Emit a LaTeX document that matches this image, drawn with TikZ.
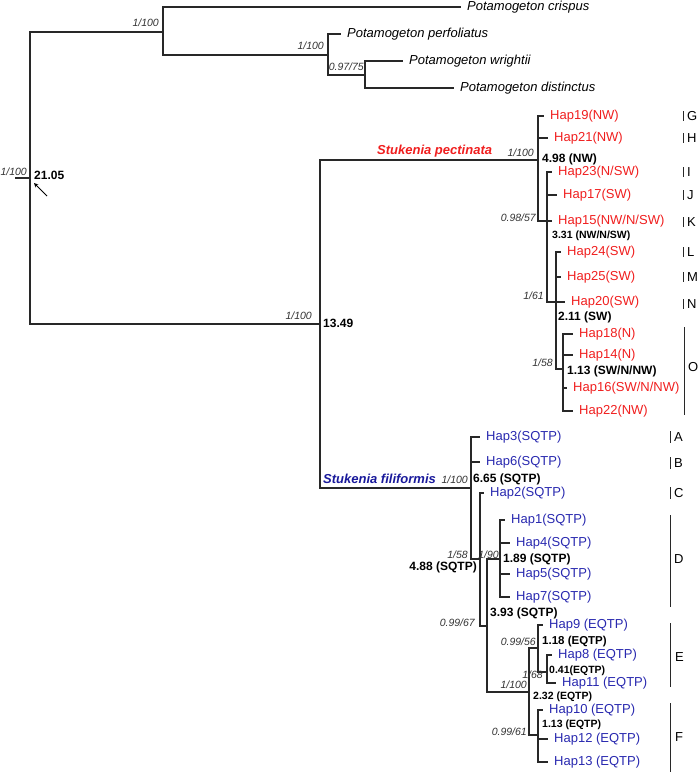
\documentclass[tikz,border=0pt]{standalone}
\usepackage{fontspec}
\setmainfont{Liberation Sans}
\usetikzlibrary{positioning}
\definecolor{hapred}{RGB}{240,30,30}
\definecolor{hapblue}{RGB}{40,40,175}
\definecolor{filblue}{RGB}{25,25,155}
\definecolor{branch}{RGB}{40,40,40}

\begin{document}
\begin{tikzpicture}[>=stealth, x=1pt, y=-1pt,
  br/.style={draw=branch, line width=1.3pt},
  bar/.style={draw=branch, line width=0.8pt},
  sp/.style={anchor=west, inner sep=0pt, xshift=6pt, font=\itshape\fontsize{13}{15}\selectfont},
  tipr/.style={anchor=west, inner sep=0pt, xshift=6pt, text=hapred, font=\fontsize{13}{15}\selectfont},
  tipb/.style={tipr, text=hapblue},
  age/.style={anchor=west, inner sep=0pt, font=\bfseries\fontsize{12}{14}\selectfont},
  agesm/.style={age, font=\bfseries\fontsize{10.5}{12}\selectfont},
  supp/.style={anchor=east, inner sep=0pt, text=black!80, font=\itshape\fontsize{10.5}{12}\selectfont},
  grp/.style={anchor=west, inner sep=0pt, font=\fontsize{13}{15}\selectfont}]
  \useasboundingbox (0,0) rectangle (697,772);

  % internal nodes
  \coordinate (stub) at (15,178);  \coordinate (root) at (30,178);
  \coordinate (og1) at (163,32);   \coordinate (og2) at (328,55);
  \coordinate (og3) at (365,75);   \coordinate (ing) at (320,324);
  \coordinate (pect) at (538,160); \coordinate (nB) at (547,221);
  \coordinate (nC) at (556,302);   \coordinate (nD) at (563,369);
  \coordinate (fil) at (471,488);  \coordinate (nF) at (480,559);
  \coordinate (nG) at (487,626);   \coordinate (nH) at (500,559);
  \coordinate (nI) at (529,692);   \coordinate (nJ) at (538,648);
  \coordinate (nL) at (547,672);   \coordinate (nK) at (538,735);

  % outgroup: Potamogeton
  \path (461,7) coordinate (tcri) node[sp] (lcri) {Potamogeton crispus};
  \path (341,34) coordinate (tper) node[sp] (lper) {Potamogeton perfoliatus};
  \path (403,61) coordinate (twri) node[sp] (lwri) {Potamogeton wrightii};
  \path (454,88) coordinate (tdis) node[sp] (ldis) {Potamogeton distinctus};

  % S. pectinata haplotypes
  \path (544,116) coordinate (t19) node[tipr] (h19) {Hap19(NW)};
  \path (548,138) coordinate (t21) node[tipr] (h21) {Hap21(NW)};
  \path (552,172) coordinate (t23) node[tipr] (h23) {Hap23(N/SW)};
  \path (557,195) coordinate (t17) node[tipr] (h17) {Hap17(SW)};
  \path (552,221) coordinate (t15) node[tipr] (h15) {Hap15(NW/N/SW)};
  \path (561,252) coordinate (t24) node[tipr] (h24) {Hap24(SW)};
  \path (561,277) coordinate (t25) node[tipr] (h25) {Hap25(SW)};
  \path (565,302) coordinate (t20) node[tipr] (h20) {Hap20(SW)};
  \path (573,334) coordinate (t18) node[tipr] (h18) {Hap18(N)};
  \path (573,355) coordinate (t14) node[tipr] (h14) {Hap14(N)};
  \path (567,388) coordinate (t16) node[tipr] (h16) {Hap16(SW/N/NW)};
  \path (573,411) coordinate (t22) node[tipr] (h22) {Hap22(NW)};

  % S. filiformis haplotypes
  \path (480,437) coordinate (t3) node[tipb] (h3) {Hap3(SQTP)};
  \path (480,462) coordinate (t6) node[tipb] (h6) {Hap6(SQTP)};
  \path (484,493) coordinate (t2) node[tipb] (h2) {Hap2(SQTP)};
  \path (505,520) coordinate (t1) node[tipb] (h1) {Hap1(SQTP)};
  \path (510,543) coordinate (t4) node[tipb] (h4) {Hap4(SQTP)};
  \path (510,574) coordinate (t5) node[tipb] (h5) {Hap5(SQTP)};
  \path (510,597) coordinate (t7) node[tipb] (h7) {Hap7(SQTP)};
  \path (543,625) coordinate (t9) node[tipb] (h9) {Hap9 (EQTP)};
  \path (552,655) coordinate (t8) node[tipb] (h8) {Hap8 (EQTP)};
  \path (556,683) coordinate (t11) node[tipb] (h11) {Hap11 (EQTP)};
  \path (543,710) coordinate (t10) node[tipb] (h10) {Hap10 (EQTP)};
  \path (548,739) coordinate (t12) node[tipb] (h12) {Hap12 (EQTP)};
  \path (548,762) coordinate (t13) node[tipb] (h13) {Hap13 (EQTP)};

  % branches
  \draw[br] (stub) -- (root) (root) |- (og1) (root) |- (ing);
  \draw[br] (og1) |- (tcri) (og1) |- (og2) (og2) |- (tper) (og2) |- (og3)
            (og3) |- (twri) (og3) |- (tdis);
  \draw[br] (ing) |- (pect) (ing) |- (fil);
  \draw[br] (pect) |- (t19) (pect) |- (t21) (pect) |- (nB);
  \draw[br] (nB) |- (t23) (nB) |- (t17) (nB) |- (t15) (nB) |- (nC);
  \draw[br] (nC) |- (t24) (nC) |- (t25) (nC) |- (t20) (nC) |- (nD);
  \draw[br] (nD) |- (t18) (nD) |- (t14) (nD) |- (t16) (nD) |- (t22);
  \draw[br] (fil) |- (t3) (fil) |- (t6) (fil) |- (nF);
  \draw[br] (nF) |- (t2) (nF) |- (nG) (nG) |- (nH) (nG) |- (nI);
  \draw[br] (nH) |- (t1) (nH) |- (t4) (nH) |- (t5) (nH) |- (t7);
  \draw[br] (nI) |- (nJ) (nI) |- (nK) (nJ) |- (t9) (nJ) |- (nL);
  \draw[br] (nL) |- (t8) (nL) |- (t11);
  \draw[br] (nK) |- (t10) (nK) |- (t12) (nK) |- (t13);

  % clade names
  \node[anchor=west, inner sep=0pt, text=hapred, font=\bfseries\itshape\fontsize{13}{15}\selectfont] (cpec) at (377,151) {Stukenia pectinata};
  \node[anchor=west, inner sep=0pt, text=filblue, font=\bfseries\itshape\fontsize{13}{15}\selectfont] (cfil) at (323,479) {Stukenia filiformis};

  % support values (PP/BS)
  \node[supp] (s0) at (27,172) {1/100};
  \node[supp] (s1) at (159,23) {1/100};
  \node[supp] (s2) at (324,46) {1/100};
  \node[supp] (s3) at (364,67) {0.97/75};
  \node[supp] (s4) at (312,316) {1/100};
  \node[supp] (s5) at (534,153) {1/100};
  \node[supp] (s6) at (536,218) {0.98/57};
  \node[supp] (s7) at (544,296) {1/61};
  \node[supp] (s8) at (553,363) {1/58};
  \node[supp] (s9) at (468,480) {1/100};
  \node[supp] (s10) at (468,555) {1/58};
  \node[supp] (s11) at (499,555) {1/90};
  \node[supp] (s12) at (475,623) {0.99/67};
  \node[supp] (s13) at (536,642) {0.99/56};
  \node[supp] (s14) at (543,675) {1/68};
  \node[supp] (s15) at (527,685) {1/100};
  \node[supp] (s16) at (527,732) {0.99/61};

  % divergence times (Ma)
  \node[age] (a0) at (34,175) {21.05};
  \node[age] (a1) at (323,323) {13.49};
  \node[age] (a2) at (542,159) {4.98 (NW)};
  \node[agesm] (a3) at (552,236) {3.31 (NW/N/SW)};
  \node[age] (a4) at (558,317) {2.11 (SW)};
  \node[age] (a5) at (567,371) {1.13 (SW/N/NW)};
  \node[age] (a6) at (473,479) {6.65 (SQTP)};
  \node[age, anchor=east] (a7) at (477,567) {4.88 (SQTP)};
  \node[age] (a8) at (503,559) {1.89 (SQTP)};
  \node[age] (a9) at (490,613) {3.93 (SQTP)};
  \node[age, font=\bfseries\fontsize{11.5}{13}\selectfont] (a10) at (542,642) {1.18 (EQTP)};
  \node[agesm] (a11) at (549,671) {0.41(EQTP)};
  \node[agesm] (a12) at (533,697) {2.32 (EQTP)};
  \node[agesm] (a13) at (542,725) {1.13 (EQTP)};

  % root arrow
  \coordinate (arrt) at (47,196); \coordinate (arrh) at (34,183);
  \draw[->, line width=0.9pt] (arrt) -- (arrh);

  % haplotype groups
  \foreach \g/\y in {G/116,H/138,I/172,J/195,K/222,L/252,M/277,N/304}{
    \draw[bar] (683,\y-5) -- (683,\y+5);
    \node[grp] (g\g) at (687,\y) {\g};
  }
  \draw[bar] (684,327) -- (684,415);
  \node[grp] (gO) at (688,367) {O};
  \foreach \g/\y in {A/437,B/463,C/493}{
    \draw[bar] (670,\y-6) -- (670,\y+6);
    \node[grp] (g\g) at (674,\y) {\g};
  }
  \draw[bar] (670,515) -- (670,607);
  \node[grp] (gD) at (674,559) {D};
  \draw[bar] (670,623) -- (670,687);
  \node[grp] (gE) at (675,657) {E};
  \draw[bar] (670,703) -- (670,772);
  \node[grp] (gF) at (675,737) {F};
\end{tikzpicture}
\end{document}
